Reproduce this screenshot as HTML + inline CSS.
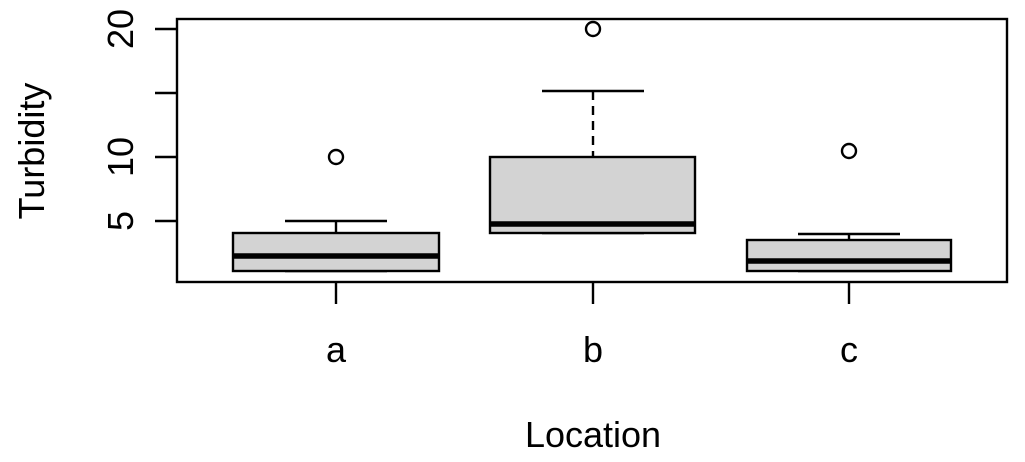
<!DOCTYPE html>
<html><head><style>html,body{margin:0;padding:0;background:#fff}</style></head>
<body>
<svg width="1025" height="457" xmlns="http://www.w3.org/2000/svg" font-family="Liberation Sans, Arial, sans-serif">
<rect width="1025" height="457" fill="#fff"/>
<g stroke="#000" stroke-width="2.4" fill="none">
<!-- box a -->
<line x1="336" y1="221" x2="336" y2="233"/>
<line x1="285" y1="221" x2="387" y2="221"/>
<line x1="285" y1="271" x2="387" y2="271"/>
<rect x="233" y="233" width="206" height="38" fill="#d3d3d3"/>
<line x1="233" y1="256" x2="439" y2="256" stroke-width="5.5"/>
<circle cx="336" cy="157" r="7"/>
<!-- box b -->
<line x1="593" y1="91" x2="593" y2="157" stroke-dasharray="9,6"/>
<line x1="542" y1="91" x2="644" y2="91"/>
<line x1="542" y1="233" x2="644" y2="233"/>
<rect x="490" y="157" width="205" height="76" fill="#d3d3d3"/>
<line x1="490" y1="224" x2="695" y2="224" stroke-width="5.5"/>
<circle cx="593" cy="29" r="7"/>
<!-- box c -->
<line x1="849" y1="234" x2="849" y2="240"/>
<line x1="798" y1="234" x2="900" y2="234"/>
<line x1="798" y1="271" x2="900" y2="271"/>
<rect x="747" y="240" width="204" height="31" fill="#d3d3d3"/>
<line x1="747" y1="261" x2="951" y2="261" stroke-width="5.5"/>
<circle cx="849" cy="151" r="7"/>
<!-- frame -->
<rect x="177" y="19" width="830" height="263"/>
<!-- y ticks -->
<line x1="155" y1="29" x2="177" y2="29"/>
<line x1="155" y1="93" x2="177" y2="93"/>
<line x1="155" y1="157" x2="177" y2="157"/>
<line x1="155" y1="221" x2="177" y2="221"/>
<!-- x ticks -->
<line x1="336" y1="282" x2="336" y2="304"/>
<line x1="593" y1="282" x2="593" y2="304"/>
<line x1="849" y1="282" x2="849" y2="304"/>
</g>
<g font-size="36" fill="#000" text-anchor="middle">
<text transform="translate(133,29) rotate(-90)">20</text>
<text transform="translate(133,157) rotate(-90)">10</text>
<text transform="translate(133,221) rotate(-90)">5</text>
<text x="336" y="362">a</text>
<text x="593" y="362">b</text>
<text x="849" y="362">c</text>
<text x="593" y="447">Location</text>
<text transform="translate(44,151) rotate(-90)">Turbidity</text>
</g>
</svg>
</body></html>
